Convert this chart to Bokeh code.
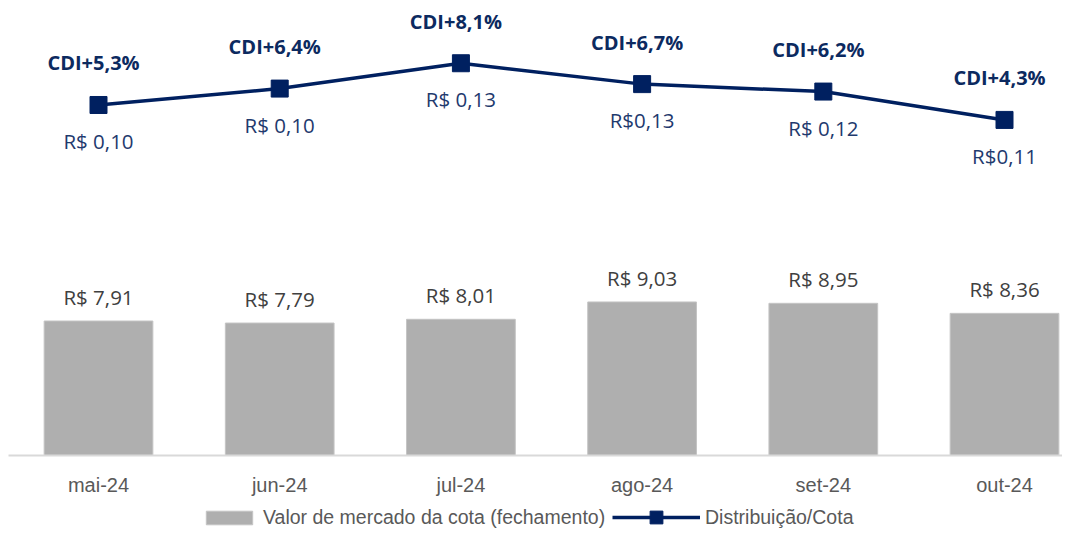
from bokeh.plotting import figure
from bokeh.layouts import column
from bokeh.models import (ColumnDataSource, Range1d, LinearAxis, Legend, LegendItem,
                          FixedTicker)
from bokeh.core.properties import value
from bokeh.embed import file_html
from bokeh.resources import INLINE

# ---- data ----
months = ["mai-24", "jun-24", "jul-24", "ago-24", "set-24", "out-24"]
market_value = [7.91, 7.79, 8.01, 9.03, 8.95, 8.36]
market_labels = ["R$ 7,91", "R$ 7,79", "R$ 8,01", "R$ 9,03", "R$ 8,95", "R$ 8,36"]
cdi_spread = [5.3, 6.4, 8.1, 6.7, 6.2, 4.3]
cdi_labels = ["CDI+5,3%", "CDI+6,4%", "CDI+8,1%", "CDI+6,7%", "CDI+6,2%", "CDI+4,3%"]
dist_labels = ["R$ 0,10", "R$ 0,10", "R$ 0,13", "R$0,13", "R$ 0,12", "R$0,11"]
series_names = ["Valor de mercado da cota (fechamento)", "Distribuição/Cota"]

xs = list(range(len(months)))
src = ColumnDataSource(dict(x=xs, mv=market_value, mvl=market_labels,
                            cdi=cdi_spread, cdil=cdi_labels, dl=dist_labels))

NAVY = "#002060"
BAR = "#afafaf"
BAR_EDGE = "#c4c4c4"

p = figure(width=1062, height=498, output_backend="svg", toolbar_location=None,
           x_range=Range1d(-0.4967, 5.320), y_range=Range1d(0, 26.29),
           y_axis_location=None, x_axis_location=None,
           min_border_top=8, min_border_left=8, min_border_right=0,
           min_border_bottom=41)
p.outline_line_color = None
p.xgrid.visible = False
p.ygrid.visible = False
p.background_fill_color = "white"
p.border_fill_color = "white"
p.extra_y_ranges = {"cdi": Range1d(-18.2, 11.77)}

xaxis = LinearAxis(ticker=FixedTicker(ticks=xs),
                   major_label_overrides={i: m for i, m in enumerate(months)})
xaxis.axis_line_color = "#d9d9d9"
xaxis.axis_line_width = 2
xaxis.major_tick_line_color = None
xaxis.minor_tick_line_color = None
xaxis.major_label_standoff = 12
xaxis.major_label_text_font = "Liberation Sans"
xaxis.major_label_text_font_size = "20px"
xaxis.major_label_text_color = "#595959"
p.add_layout(xaxis, "below")

p.vbar(x="x", top="mv", width=0.6, source=src, fill_color=BAR,
       line_color=BAR_EDGE, line_width=1)
p.text(x="x", y="mv", text="mvl", source=src, text_align="center",
       text_baseline="middle", y_offset=-24, text_font=value("Open Sans"),
       text_font_size="20.5px", text_color="#404040")

p.line(x="x", y="cdi", source=src, y_range_name="cdi", line_color=NAVY,
       line_width=3.5)
p.scatter(x="x", y="cdi", source=src, y_range_name="cdi", marker="square",
          size=17, fill_color=NAVY, line_color=NAVY)
p.text(x="x", y="cdi", text="cdil", source=src, y_range_name="cdi",
       text_align="center", text_baseline="middle", x_offset=-5, y_offset=-42,
       text_font=value("Open Sans"), text_font_style="bold",
       text_font_size="20px", text_color="#0c2a60")
p.text(x="x", y="cdi", text="dl", source=src, y_range_name="cdi",
       text_align="center", text_baseline="middle", y_offset=36,
       text_font=value("Open Sans"), text_font_size="20.5px", text_color="#1f3a6e")

# ---- legend strip (separate figure so it sits below the axis) ----
lf = figure(width=1062, height=35, output_backend="svg", toolbar_location=None,
            x_range=Range1d(0, 1), y_range=Range1d(0, 1),
            x_axis_location=None, y_axis_location=None,
            min_border_top=0, min_border_left=0, min_border_right=0,
            min_border_bottom=0)
lf.outline_line_color = None
lf.xgrid.visible = False
lf.ygrid.visible = False
# legend swatches reuse the series styles; their data lie outside the visible strip
dummy = ColumnDataSource(dict(x=[10, 11], y=[10, 11]))
lb = lf.vbar(x="x", top="y", width=0.6, source=dummy, fill_color=BAR,
             line_color=BAR_EDGE, line_width=1)
ll = lf.line(x="x", y="y", source=dummy, line_color=NAVY, line_width=3.5)
lm = lf.scatter(x="x", y="y", source=dummy, marker="square", size=15,
                fill_color=NAVY, line_color=NAVY)

def mk_legend(items, gw, gh, loc):
    return Legend(items=items, location=loc, orientation="horizontal",
                  glyph_width=gw, glyph_height=gh, label_standoff=5,
                  padding=0, margin=0, spacing=0,
                  border_line_color=None, background_fill_alpha=0,
                  label_text_font="Liberation Sans", label_text_font_size="19.5px",
                  label_text_color="#595959")

lf.add_layout(mk_legend([LegendItem(label=series_names[0], renderers=[lb])], 58, 17, (192, 4)), "center")
lf.add_layout(mk_legend([LegendItem(label=series_names[1], renderers=[ll, lm])], 88, 32, (604, 0)), "center")

layout = column(p, lf, spacing=0)
open("out.html", "w").write(file_html(layout, INLINE))
